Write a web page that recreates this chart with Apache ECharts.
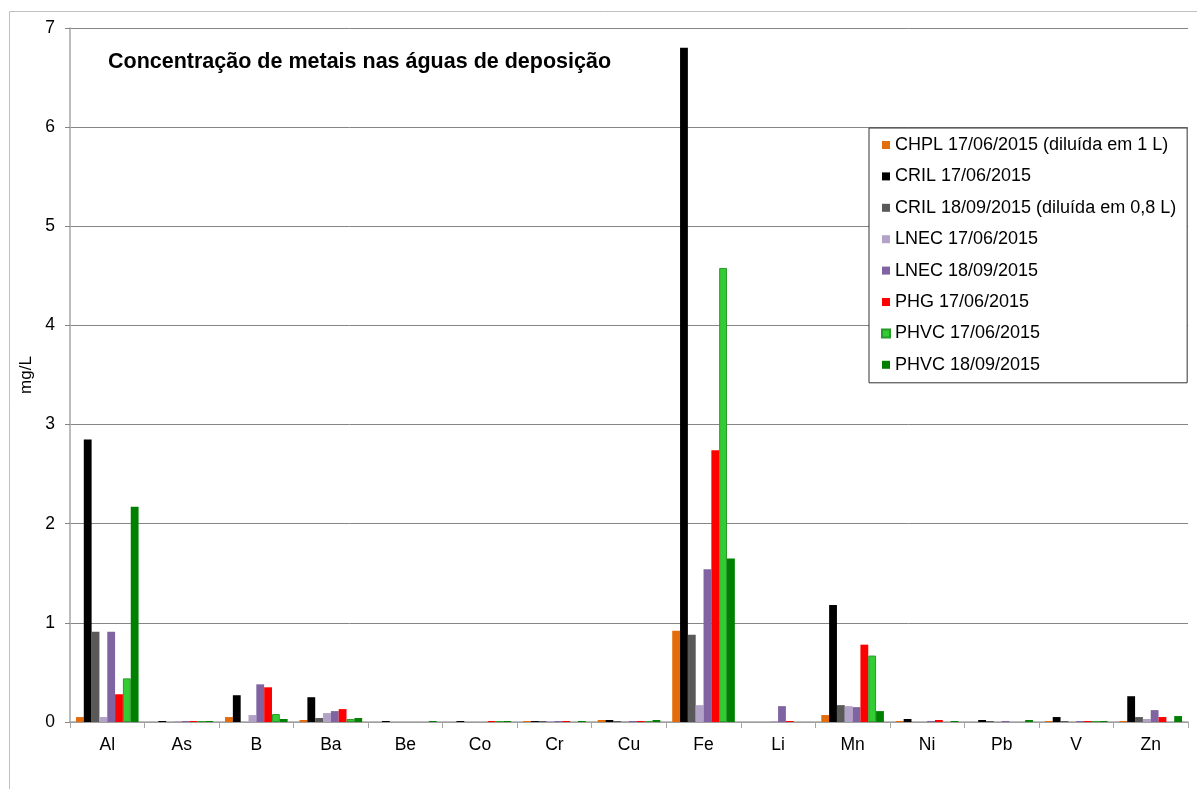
<!DOCTYPE html>
<html>
<head>
<meta charset="utf-8">
<title>Concentração de metais nas águas de deposição</title>
<script src="https://cdn.jsdelivr.net/npm/echarts@6/dist/echarts.min.js"></script>
<style>
  html, body { margin: 0; padding: 0; background: #fff; }
  #chart { width: 1197px; height: 789px; }
</style>
</head>
<body>
<div id="chart"></div>
<script>
// metais analisados
const metals = ['Al', 'As', 'B', 'Ba', 'Be', 'Co', 'Cr', 'Cu', 'Fe', 'Li', 'Mn', 'Ni', 'Pb', 'V', 'Zn']

// valores em mg/L (null = sem barra visível)
const chpl1706 = [0.05, null, 0.05, 0.02, null, null, 0.01, 0.02, 0.92, null, 0.07, 0.01, null, 0.01, 0.01]
const cril1706 = [2.85, 0.01, 0.27, 0.25, 0.01, 0.01, 0.01, 0.02, 6.8, null, 1.18, 0.03, 0.02, 0.05, 0.26]
const cril1809 = [0.91, null, null, 0.04, null, null, 0.01, 0.01, 0.88, null, 0.17, null, 0.01, 0.01, 0.05]
const lnec1706 = [0.05, 0.01, 0.07, 0.09, null, null, 0.01, 0.01, 0.17, 0.01, 0.16, null, null, null, 0.03]
const lnec1809 = [0.91, 0.01, 0.38, 0.11, null, null, 0.01, 0.01, 1.54, 0.16, 0.15, 0.01, 0.01, 0.01, 0.12]
const phg1706 = [0.28, 0.01, 0.35, 0.13, null, 0.01, 0.01, 0.01, 2.74, 0.01, 0.78, 0.02, null, 0.01, 0.05]
const phvc1706 = [0.44, 0.01, 0.08, 0.03, null, 0.01, null, 0.01, 4.58, null, 0.67, null, null, 0.01, null]
const phvc1809 = [2.17, 0.01, 0.03, 0.04, 0.01, 0.01, 0.01, 0.02, 1.65, null, 0.11, 0.01, 0.02, 0.01, 0.06]

const seriesList = [
  { name: 'CHPL 17/06/2015 (diluída em 1 L)', data: chpl1706, color: '#e46c0a' },
  { name: 'CRIL 17/06/2015', data: cril1706, color: '#000000' },
  { name: 'CRIL 18/09/2015 (diluída em 0,8 L)', data: cril1809, color: '#595959' },
  { name: 'LNEC 17/06/2015', data: lnec1706, color: '#b3a2c7' },
  { name: 'LNEC 18/09/2015', data: lnec1809, color: '#8064a2' },
  { name: 'PHG 17/06/2015', data: phg1706, color: '#ff0000' },
  { name: 'PHVC 17/06/2015', data: phvc1706, color: '#33cc33', border: '#2a9a2a' },
  { name: 'PHVC 18/09/2015', data: phvc1809, color: '#008000' }
]

const font = '"Liberation Sans", Arial, sans-serif'
const chart = echarts.init(document.getElementById('chart'))

const option = {
  animation: false,
  backgroundColor: '#fff',
  textStyle: { fontFamily: font },
  graphic: [
    {
      type: 'rect',
      left: 7,
      top: 9,
      shape: { width: 1300, height: 1000 },
      style: { fill: 'none', stroke: '#c0c0c0', lineWidth: 1 },
      z: -1
    }
  ],
  title: {
    text: 'Concentração de metais nas águas de deposição',
    left: 103,
    top: 46,
    textStyle: { fontFamily: font, fontSize: 21.5, fontWeight: 'bold', color: '#000' }
  },
  legend: {
    orient: 'vertical',
    left: 869,
    top: 128,
    padding: [7, 11, 8, 12],
    itemWidth: 8,
    itemHeight: 8,
    itemGap: 11.4,
    borderColor: '#333',
    borderWidth: 1,
    backgroundColor: '#fff',
    icon: 'rect',
    textStyle: { fontFamily: font, fontSize: 18, color: '#000', lineHeight: 20 },
    data: seriesList.map(s => s.name)
  },
  grid: { left: 70, right: 9, top: 28, bottom: 67 },
  xAxis: {
    type: 'category',
    data: metals,
    axisLine: { lineStyle: { color: '#a6a6a6', width: 1.5 } },
    axisTick: { show: true, length: 6, interval: 0, lineStyle: { color: '#a6a6a6' } },
    axisLabel: { fontFamily: font, fontSize: 17.5, color: '#000', margin: 14, interval: 0 },
    splitLine: { show: false }
  },
  yAxis: {
    type: 'value',
    min: 0,
    max: 7,
    interval: 1,
    name: 'mg/L',
    nameLocation: 'middle',
    nameGap: 33,
    nameTextStyle: { fontFamily: font, fontSize: 17, color: '#000' },
    axisLine: { show: true, lineStyle: { color: '#a6a6a6', width: 1.5 } },
    axisTick: { show: true, length: 5, lineStyle: { color: '#868686' } },
    axisLabel: { fontFamily: font, fontSize: 17.5, color: '#000', margin: 15 },
    splitLine: { lineStyle: { color: '#868686', width: 1 } }
  },
  series: seriesList.map(s => ({
    name: s.name,
    type: 'bar',
    data: s.data,
    barGap: '0%',
    barCategoryGap: '16%',
    itemStyle: {
      color: s.color,
      borderColor: s.border || s.color,
      borderWidth: s.border ? 1 : 0
    }
  }))
}

chart.setOption(option)
</script>
</body>
</html>
